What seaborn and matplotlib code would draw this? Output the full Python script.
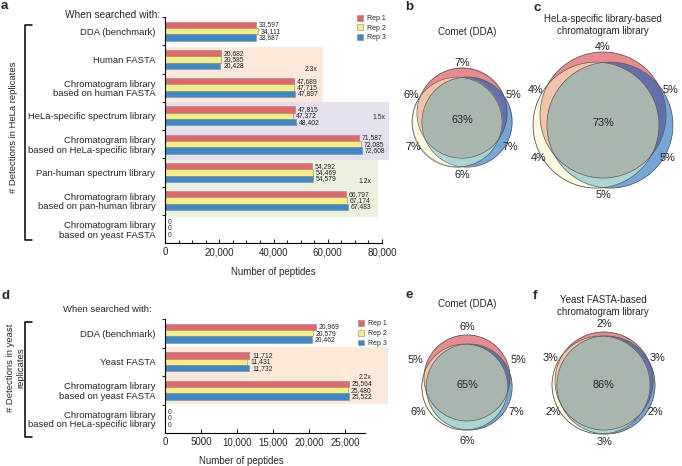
import numpy as np
import pandas as pd
import seaborn as sns
import matplotlib.pyplot as plt
from matplotlib.patches import Rectangle, Circle
from matplotlib.lines import Line2D
from matplotlib.colors import to_rgba

# ---- data ----
reps = ['Rep 1', 'Rep 2', 'Rep 3']
rep_colors = ['#e2666b', '#f6ee80', '#3f88c8']

hela_methods = ['DDA (benchmark)', 'Human FASTA',
                'Chromatogram library\nbased on human FASTA',
                'HeLa-specific spectrum library',
                'Chromatogram library\nbased on HeLa-specific library',
                'Pan-human spectrum library',
                'Chromatogram library\nbased on pan-human library',
                'Chromatogram library\nbased on yeast FASTA']
hela_rep1 = [33597, 20682, 47689, 47815, 71587, 54292, 66797, 0]
hela_rep2 = [34111, 20585, 47715, 47372, 72085, 54469, 67174, 0]
hela_rep3 = [33687, 20428, 47897, 48402, 72608, 54579, 67483, 0]
hela_folds = ['', '', '2.3x', '', '1.5x', '', '1.2x', '']

yeast_methods = ['DDA (benchmark)', 'Yeast FASTA',
                 'Chromatogram library\nbased on yeast FASTA',
                 'Chromatogram library\nbased on HeLa-specific library']
yeast_rep1 = [20969, 11712, 25564, 0]
yeast_rep2 = [20579, 11431, 25480, 0]
yeast_rep3 = [20462, 11732, 25522, 0]
yeast_folds = ['', '', '2.2x', '']

hela_ticks = [0, 20000, 40000, 60000, 80000]
hela_ticklabels = ['0', '20,000', '40,000', '60,000', '80,000']
yeast_ticks = [0, 5000, 10000, 15000, 20000, 25000]
yeast_ticklabels = ['0', '5000', '10,000', '15,000', '20,000', '25,000']

# venn percentages: Rep1 only, Rep1&2, Rep1&3, all three, Rep2 only, Rep3 only, Rep2&3
venn_b = [7, 6, 5, 63, 7, 7, 6]
venn_c = [4, 4, 5, 73, 4, 5, 5]
venn_e = [6, 5, 5, 65, 6, 7, 6]
venn_f = [2, 3, 3, 86, 2, 2, 3]

# ---- style ----
sns.set_theme(style='ticks', rc={'axes.edgecolor': 'black', 'axes.linewidth': 0.8,
                                 'xtick.major.width': 0.8, 'ytick.minor.width': 0.8,
                                 'xtick.minor.width': 0.8})
plt.rcParams['font.family'] = ['Liberation Sans', 'DejaVu Sans']

W, H = 682, 466
fig = plt.figure(figsize=(W / 100, H / 100), dpi=100)


def px_axes(left, top, right, bottom):
    return fig.add_axes([left / W, 1 - bottom / H, (right - left) / W, (bottom - top) / H])


def bar_panel(ax, methods, r1, r2, r3, folds, fold_dy, shades, xmax, ticks, ticklabels, minor):
    n = len(methods)
    df = pd.DataFrame({'method': methods * 3,
                       'rep': np.repeat(reps, n),
                       'peptides': r1 + r2 + r3})
    for lo, hi, xend, col in shades:
        ax.add_patch(Rectangle((0, lo), xend, hi - lo, facecolor=col, edgecolor='none',
                               zorder=0, clip_on=False))
    sns.barplot(data=df, x='peptides', y='method', hue='rep', palette=rep_colors,
                orient='h', width=0.67, saturation=1, edgecolor='#8a8a8a', linewidth=0.4,
                errorbar=None, ax=ax, zorder=2)
    if ax.get_legend() is not None:
        ax.get_legend().remove()
    ax.set_xlim(0, xmax)
    ax.set_ylim(n - 0.5, -0.5)
    for cont in ax.containers:
        for bar in cont.patches:
            v = bar.get_width()
            ax.annotate(f'{int(round(v)):,}', xy=(v, bar.get_y() + bar.get_height() / 2),
                        xytext=(2, 0), textcoords='offset points', va='center', ha='left',
                        fontsize=4.9, annotation_clip=False)
    vals = np.array([r1, r2, r3])
    for i, f in enumerate(folds):
        if f:
            ax.annotate(f, xy=(vals[:, i].max(), i), xytext=(7.2, fold_dy[i]),
                        textcoords='offset points', ha='left', va='center', fontsize=4.9,
                        annotation_clip=False)
    ax.set_xticks(ticks)
    ax.set_xticklabels(ticklabels)
    if minor:
        ax.set_xticks(np.arange(0, xmax + 1, minor), minor=True)
    ax.tick_params(axis='x', which='major', direction='in', length=3, labelsize=7, pad=3)
    ax.tick_params(axis='x', which='minor', direction='in', length=2)
    ax.set_yticks(np.arange(-0.5, n - 0.5), minor=True)
    ax.tick_params(axis='y', which='major', length=0, labelsize=6.8, pad=7)
    ax.tick_params(axis='y', which='minor', direction='out', length=2.5)
    for t in ax.get_yticklabels():
        t.set_linespacing(1.1)
    ax.set_ylabel('')
    sns.despine(ax=ax)
    handles = [Rectangle((0, 0), 1, 1, facecolor=c, edgecolor='#8a8a8a', linewidth=0.4)
               for c in rep_colors]
    return handles


# panel a
ax_a = px_axes(165, 17, 382, 243)
hela_shades = [(0.56, 2.52, 58250, '#fde9da'), (2.52, 4.56, 82600, '#e5e0ed'),
               (4.56, 6.58, 78500, '#ebf1de')]
hela_dy = [0, 0, 13, 0, 19.5, 0, 13.5, 0]
h = bar_panel(ax_a, hela_methods, hela_rep1, hela_rep2, hela_rep3, hela_folds, hela_dy,
              hela_shades, 80000, hela_ticks, hela_ticklabels, 5000)
ax_a.set_xlabel('Number of peptides', fontsize=7, labelpad=7)
ax_a.legend(h, reps, loc='upper left', bbox_to_anchor=(0.885, 1.01), frameon=False,
            fontsize=5, handlelength=0.9, handleheight=0.9, handletextpad=0.5,
            labelspacing=0.35, borderpad=0, borderaxespad=0)

# panel d
ax_d = px_axes(165, 319, 365, 433)
yeast_shades = [(0.48, 2.48, 31000, '#fde9da')]
yeast_dy = [0, 0, 9.5, 0]
h = bar_panel(ax_d, yeast_methods, yeast_rep1, yeast_rep2, yeast_rep3, yeast_folds, yeast_dy,
              yeast_shades, 27800, yeast_ticks, yeast_ticklabels, None)
ax_d.set_xlabel('Number of peptides', fontsize=7, labelpad=4)
ax_d.xaxis.set_label_coords(0.38, -0.2)
ax_d.legend(h, reps, loc='upper left', bbox_to_anchor=(0.965, 0.99), frameon=False,
            fontsize=5, handlelength=0.9, handleheight=0.9, handletextpad=0.5,
            labelspacing=0.35, borderpad=0, borderaxespad=0)

# overlay in pixel coordinates for venns and annotations
ax_o = fig.add_axes([0, 0, 1, 1])
ax_o.patch.set_visible(False)
ax_o.set_axis_off()

region_colors = {1: '#e98b8e', 2: '#fdfbe1', 4: '#74a7d7', 3: '#f5c3a8',
                 5: '#6470aa', 6: '#aad5d4', 7: '#a9b6ae'}
label_angles = [90, 155, 25, None, 210, 330, 270]


def draw_venn(ax, pcts, cx, cy, r, offs, k):
    centres = [(cx + dx * r, cy + dy * r) for dx, dy in offs]
    x0, x1, y0, y1 = cx - 1.3 * r, cx + 1.3 * r, cy - 1.3 * r, cy + 1.3 * r
    xs = np.linspace(x0, x1, 700)
    ys = np.linspace(y0, y1, 700)
    X, Y = np.meshgrid(xs, ys)
    code = np.zeros(X.shape, dtype=int)
    for bit, (ox, oy) in enumerate(centres):
        code |= (((X - ox) ** 2 + (Y - oy) ** 2) <= r ** 2).astype(int) << bit
    img = np.zeros(X.shape + (4,))
    for c, col in region_colors.items():
        img[code == c] = to_rgba(col)
    ax.imshow(img, extent=(x0, x1, y1, y0), interpolation='antialiased', zorder=1)
    for ox, oy in centres:
        ax.add_patch(Circle((ox, oy), r, fill=False, edgecolor='#5a5a5a', linewidth=0.5, zorder=2))
    mx = np.mean([c[0] for c in centres])
    my = np.mean([c[1] for c in centres])
    for p, ang in zip(pcts, label_angles):
        if ang is None:
            tx, ty = mx, my + 1
        else:
            tx = cx + k * r * np.cos(np.radians(ang))
            ty = cy - k * r * np.sin(np.radians(ang))
        ax.text(tx, ty, f'{p}%', ha='center', va='center', fontsize=7.8, color='#222222', zorder=3)


draw_venn(ax_o, venn_b, 462, 119, 45, [(0, -0.13), (-0.11, 0.07), (0.11, 0.07)], 1.25)
draw_venn(ax_o, venn_c, 603, 121, 63, [(0, -0.095), (-0.11, 0.065), (0.11, 0.065)], 1.18)
draw_venn(ax_o, venn_e, 467, 384, 43, [(0, -0.14), (-0.05, 0.07), (0.05, 0.07)], 1.32)
draw_venn(ax_o, venn_f, 604, 383, 49, [(0, -0.04), (-0.06, 0.04), (0.04, 0.04)], 1.2)

ax_o.set_aspect('auto')
ax_o.set_xlim(0, W)
ax_o.set_ylim(H, 0)

# venn titles
ax_o.text(467, 32, 'Comet (DDA)', ha='center', va='center', fontsize=7)
ax_o.text(603, 25, 'HeLa-specific library-based\nchromatogram library', ha='center',
          va='center', fontsize=7, linespacing=1.15)
ax_o.text(467, 304, 'Comet (DDA)', ha='center', va='center', fontsize=7)
ax_o.text(603, 306, 'Yeast FASTA-based\nchromatogram library', ha='center',
          va='center', fontsize=7, linespacing=1.15)

# panel letters
for letter, x, y in [('a', 0.5, 6), ('b', 405, 7), ('c', 533, 8),
                     ('d', 2, 296), ('e', 405, 295), ('f', 533, 296)]:
    ax_o.text(x, y, letter, ha='left', va='center', fontsize=9.5, fontweight='bold')

# "When searched with:" headers
ax_o.text(160, 15, 'When searched with:', ha='right', va='center', fontsize=7.3)
ax_o.text(152, 309, 'When searched with:', ha='right', va='center', fontsize=6.8)

# brackets and y labels
ax_o.add_line(Line2D([32, 25, 25, 32], [25, 25, 240, 240], color='black', lw=1.1))
ax_o.add_line(Line2D([32, 25, 25, 32], [322, 322, 437, 437], color='black', lw=1.1))
ax_o.text(14, 127, '# Detections in HeLa replicates', rotation=90, ha='center',
          va='center', fontsize=6.8)
ax_o.text(16, 368, '# Detections in yeast\nreplicates', rotation=90, ha='center',
          va='center', fontsize=6.8, multialignment='center', linespacing=1.2)

fig.savefig('out.png', dpi=100)
